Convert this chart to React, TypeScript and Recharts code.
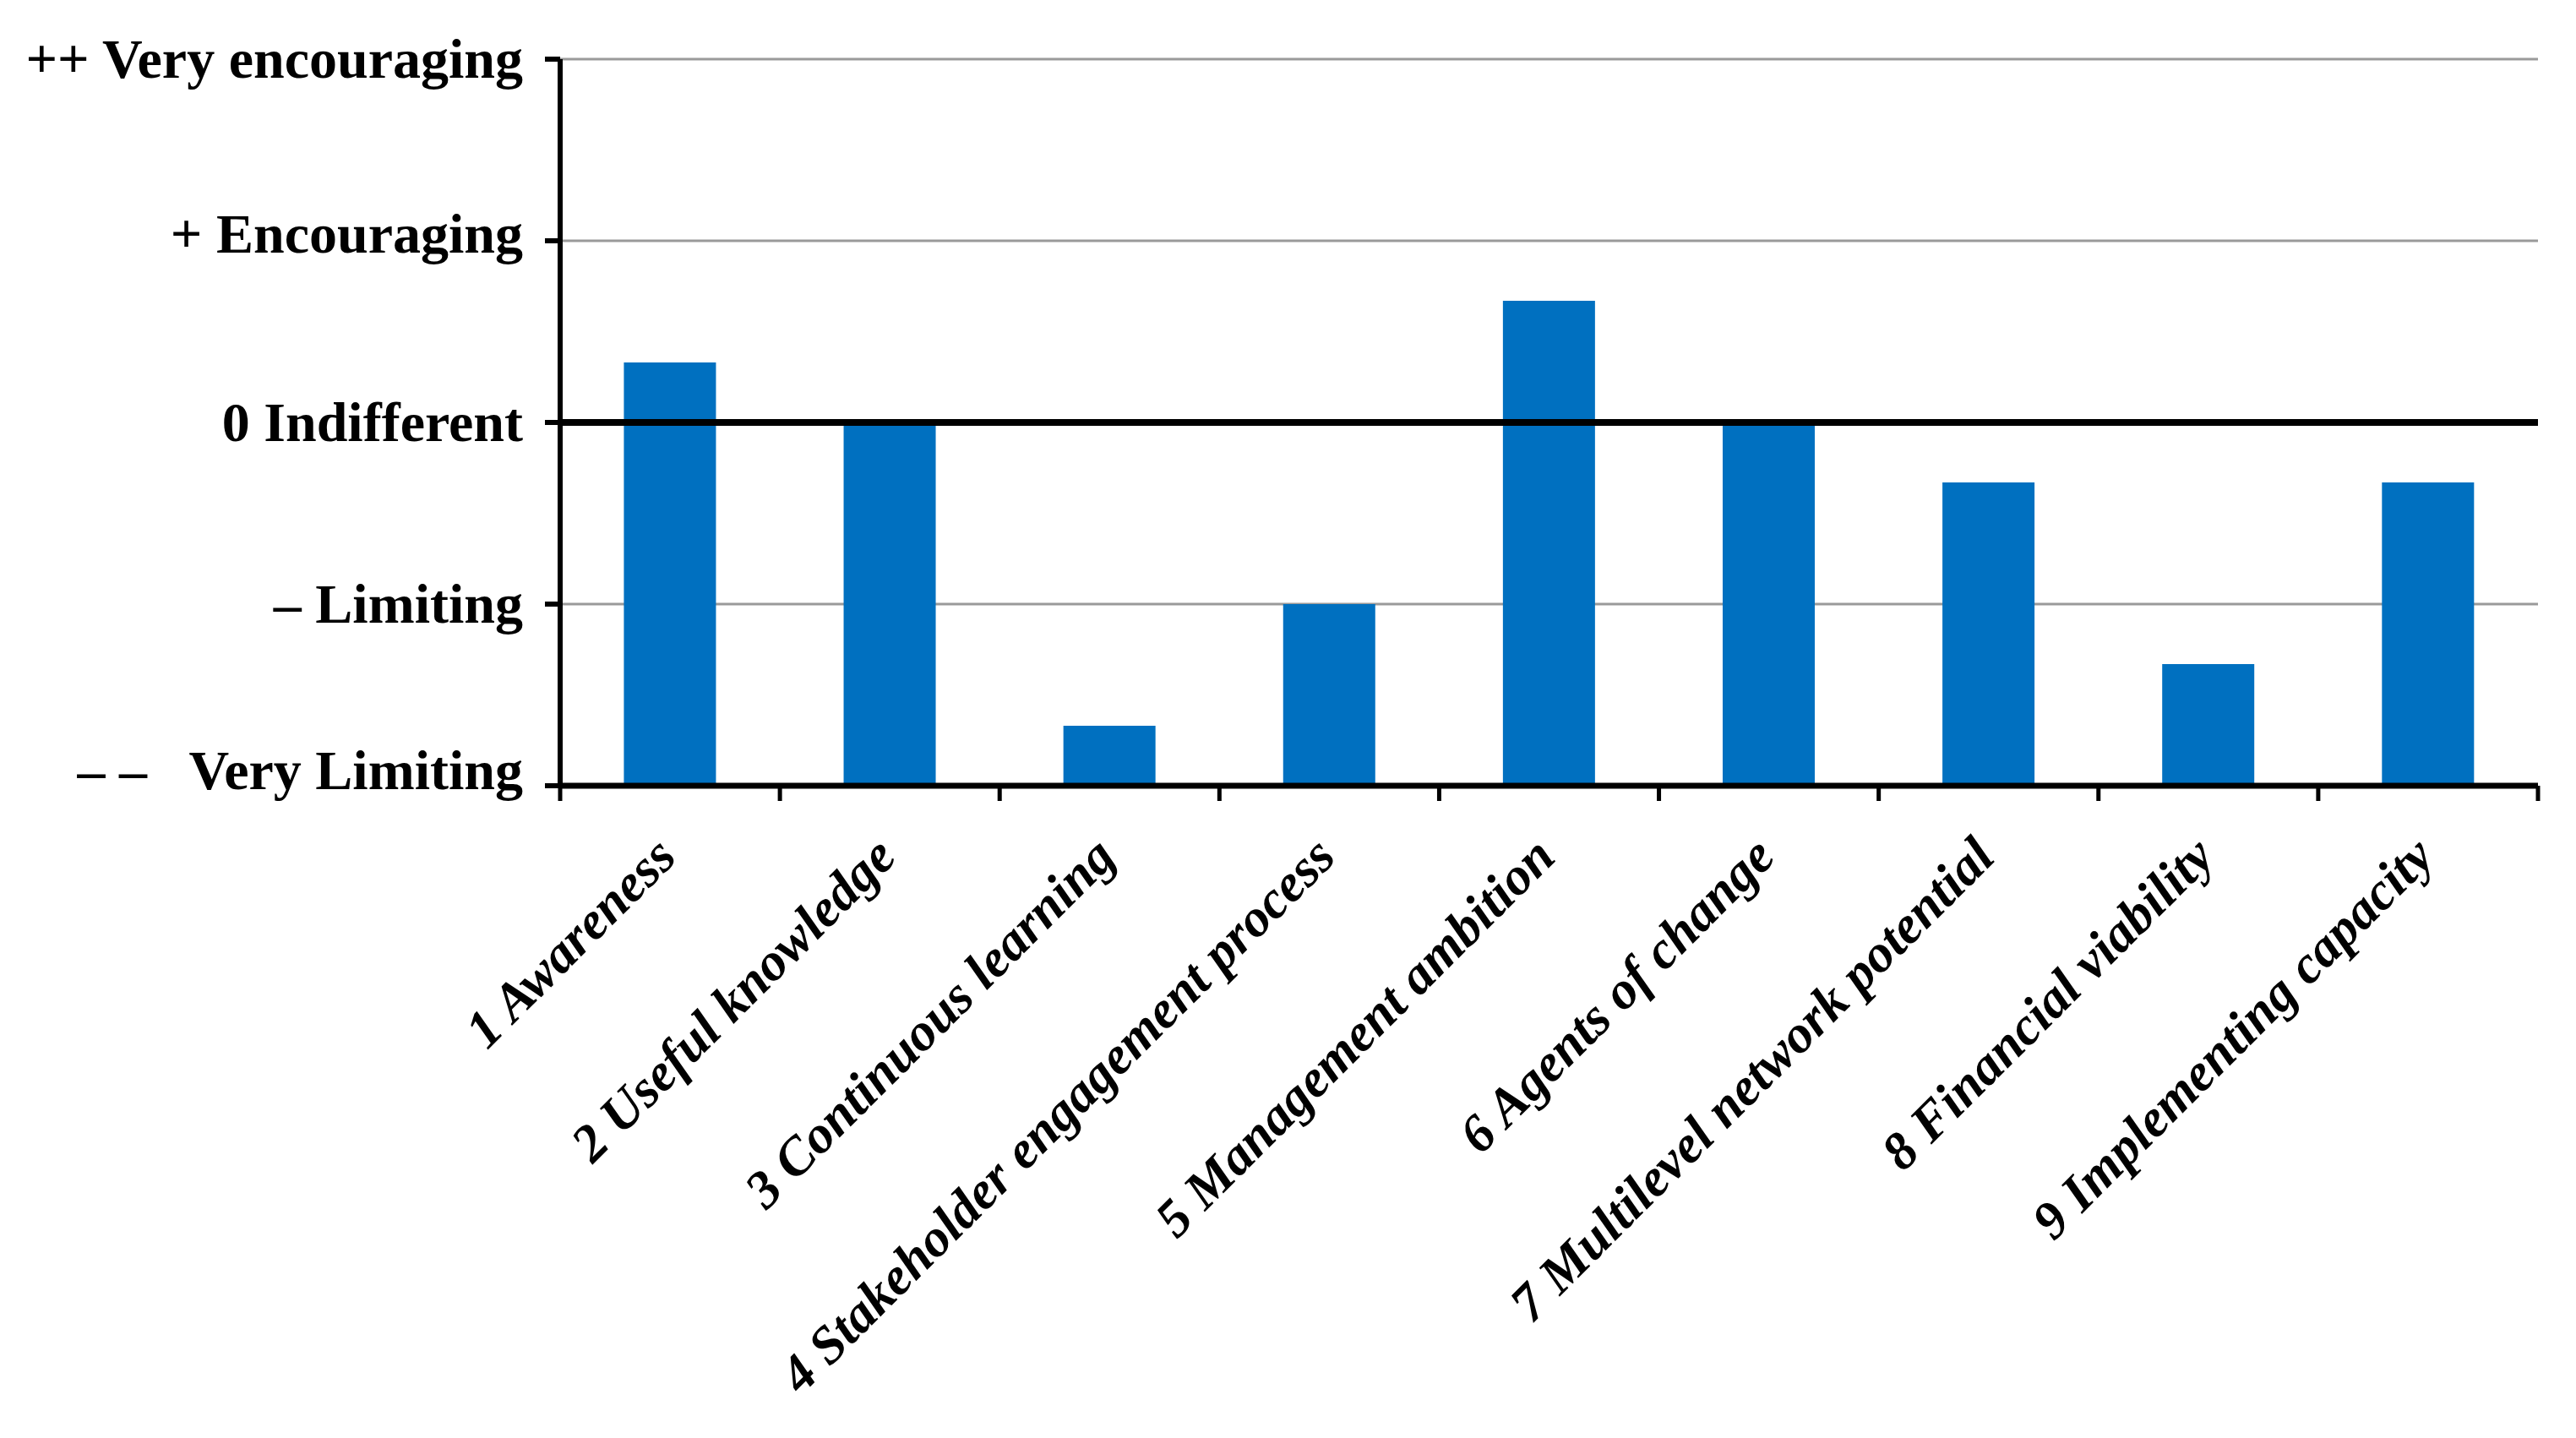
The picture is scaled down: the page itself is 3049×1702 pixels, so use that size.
import { BarChart, Bar, XAxis, YAxis, CartesianGrid, ReferenceLine } from "recharts";

const categories = [
  "1 Awareness",
  "2 Useful knowledge",
  "3 Continuous learning",
  "4 Stakeholder engagement process",
  "5 Management ambition",
  "6 Agents of change",
  "7 Multilevel network potential",
  "8 Financial viability",
  "9 Implementing capacity",
];
const scores = [0.33, 0, -1.67, -1, 0.67, 0, -0.33, -1.33, -0.33];
const yTicks = [-2, -1, 0, 1, 2];
const yTickLabels = [
  "– –\u00a0\u00a0\u00a0Very Limiting",
  "– Limiting",
  "0 Indifferent",
  "+ Encouraging",
  "++ Very encouraging",
];
const baseline = -2;

const data = categories.map((name, i) => ({ name, score: scores[i] }));

const FONT = '"Liberation Serif", "Times New Roman", serif';

function LevelTick(props: any) {
  const { x, y, payload } = props;
  const idx = yTicks.indexOf(payload.value);
  // bottom label sits a little above its tick in the original
  const lift = idx === 0 ? -18 : idx === 3 ? -8 : 0;
  return (
    <text x={x} y={y + lift} dy="0.33em" textAnchor="end" fontFamily={FONT} fontSize={66} fontWeight="bold" fill="#000">
      {yTickLabels[idx]}
    </text>
  );
}

function CategoryTick(props: any) {
  const { x, y, payload, index, visibleTicksCount } = props;
  const half = payload.offset ?? 130;
  const tx = x + 10;
  const ty = y + 87;
  return (
    <g>
      <line x1={x - half} x2={x - half} y1={y} y2={y + 18} stroke="#000" strokeWidth={5} />
      {index === visibleTicksCount - 1 && (
        <line x1={x + half} x2={x + half} y1={y} y2={y + 18} stroke="#000" strokeWidth={5} />
      )}
      <text
        x={tx}
        y={ty}
        textAnchor="end"
        transform={`rotate(-45, ${tx}, ${ty})`}
        fontFamily={FONT}
        fontSize={63}
        fontWeight="bold"
        fontStyle="italic"
        fill="#000"
      >
        {payload.value}
      </text>
    </g>
  );
}

export default function App() {
  return (
    <div style={{ width: 3049, height: 1702, background: "#fff" }}>
      <style>{`body{margin:0}`}</style>
      <BarChart
        width={3049}
        height={1702}
        data={data}
        margin={{ top: 70, right: 45, left: 0, bottom: 0 }}
        barCategoryGap="29%"
      >
        <CartesianGrid horizontal vertical={false} stroke="#9a9a9a" strokeWidth={3} />
        <XAxis
          dataKey="name"
          height={772}
          interval={0}
          tickSize={0}
          tickMargin={0}
          tickLine={false}
          axisLine={{ stroke: "#000", strokeWidth: 7 }}
          tick={<CategoryTick />}
        />
        <YAxis
          width={663}
          domain={[-2, 2]}
          ticks={yTicks}
          allowDataOverflow
          tickSize={18}
          tickMargin={26}
          tickLine={{ stroke: "#000", strokeWidth: 6 }}
          axisLine={{ stroke: "#000", strokeWidth: 6 }}
          tick={<LevelTick />}
        />
        <Bar dataKey={(d: any) => [baseline, d.score]} fill="#0070C0" isAnimationActive={false} />
        <ReferenceLine y={0} stroke="#000" strokeWidth={8} />
      </BarChart>
    </div>
  );
}
